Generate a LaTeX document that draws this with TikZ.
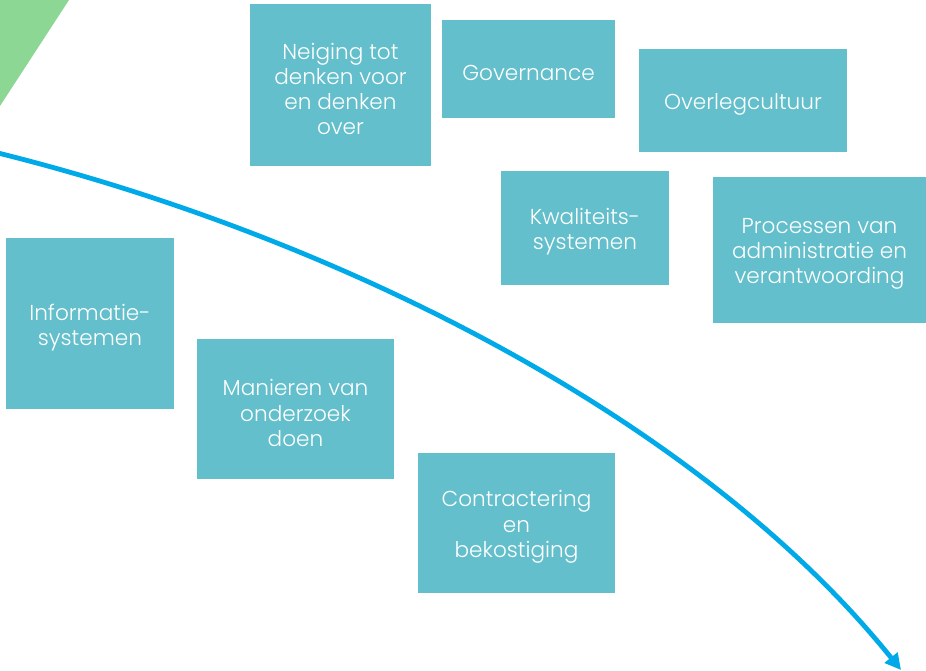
\documentclass[tikz,border=0pt]{standalone}
\usepackage{fontspec}
\setmainfont{Poppins}[UprightFont={* Light}]
\usetikzlibrary{arrows.meta}
\definecolor{boxteal}{HTML}{63BFCB}
\definecolor{arrowblue}{HTML}{00AAE8}
\definecolor{trigreen}{HTML}{8DD795}
\tikzset{
  box/.style={fill=boxteal, draw=none, inner sep=0pt},
  boxtext/.style={text=white, align=center, inner sep=0pt, yshift=-4pt,
    font=\fontsize{21.6}{25.3}\selectfont},
  flowarrow/.style={draw=arrowblue, line width=4.8pt, -{Triangle[length=16pt,width=16pt]}}
}
\begin{document}
\begin{tikzpicture}[x=1pt,y=-1pt]
\useasboundingbox (0,0) rectangle (926,671);
\fill[trigreen] (0,0) -- (69,0) -- (0,106) -- cycle;
\node[box, minimum width=181pt, minimum height=162pt, label={[boxtext]center:{Neiging tot\\denken voor\\en denken\\over}}] (neiging) at (340.5,85) {};
\node[box, minimum width=173pt, minimum height=98pt, label={[boxtext]center:{Governance}}] (governance) at (528.5,69) {};
\node[box, minimum width=208pt, minimum height=103pt, label={[boxtext]center:{Overlegcultuur}}] (overleg) at (743,100.5) {};
\node[box, minimum width=168pt, minimum height=114pt, label={[boxtext]center:{Kwaliteits-\\systemen}}] (kwaliteit) at (585,228) {};
\node[box, minimum width=213pt, minimum height=146pt, label={[boxtext]center:{Processen van\\administratie en\\verantwoording}}] (processen) at (819.5,250) {};
\node[box, minimum width=168pt, minimum height=171pt, label={[boxtext]center:{Informatie-\\systemen}}] (informatie) at (90,323.5) {};
\node[box, minimum width=197pt, minimum height=140pt, label={[boxtext]center:{Manieren van\\onderzoek\\doen}}] (manieren) at (295.5,409) {};
\node[box, minimum width=197pt, minimum height=140pt, label={[boxtext]center:{Contractering\\en\\bekostiging}}] (contract) at (516.5,523) {};
\coordinate (arrowstart) at (-2,153);
\coordinate (arrowend) at (901,670);
\draw[flowarrow] (arrowstart) .. controls (340,238) and (700,420) .. (arrowend);
\end{tikzpicture}
\end{document}
